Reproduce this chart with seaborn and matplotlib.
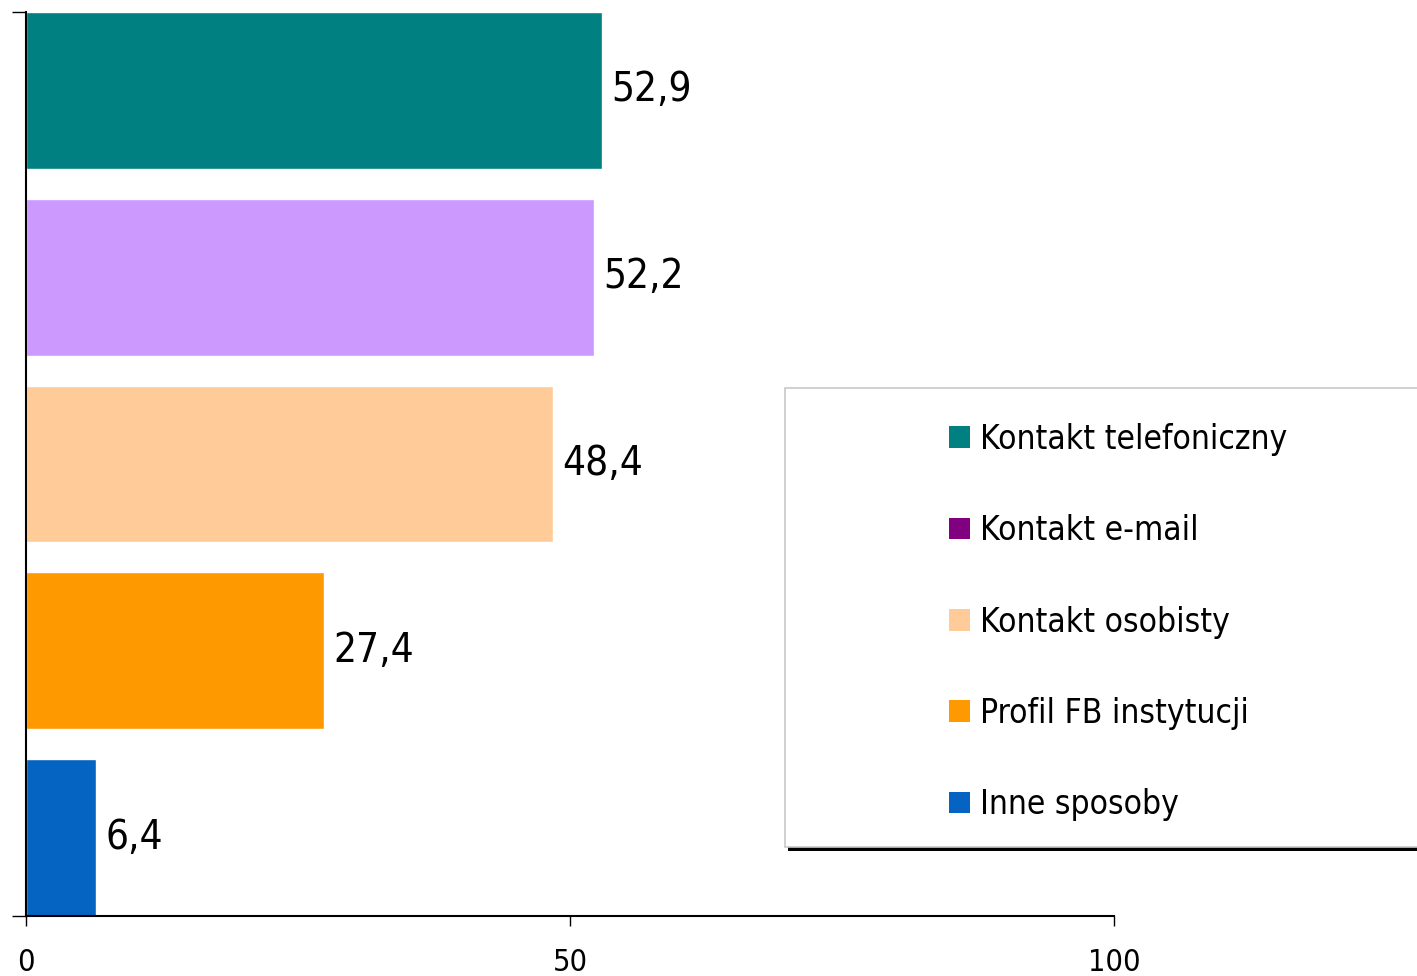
import matplotlib
matplotlib.use("Agg")
import matplotlib.pyplot as plt
import pandas as pd
import seaborn as sns
from matplotlib.patches import Patch, Rectangle

categories = [
    "Kontakt telefoniczny",
    "Kontakt e-mail",
    "Kontakt osobisty",
    "Profil FB instytucji",
    "Inne sposoby",
]
values = [52.9, 52.2, 48.4, 27.4, 6.4]
bar_colors = ["#008080", "#CC99FF", "#FFCC99", "#FF9900", "#0563C1"]
legend_colors = ["#008080", "#800080", "#FFCC99", "#FF9900", "#0563C1"]
x_ticks = [0, 50, 100]

sns.set_style("white")
plt.rcParams["font.family"] = ["DejaVu Sans"]
plt.rcParams["font.stretch"] = "condensed"
plt.rcParams["text.color"] = "black"
plt.rcParams["xtick.color"] = "black"
plt.rcParams["ytick.color"] = "black"

df = pd.DataFrame({"category": categories, "value": values})

fig = plt.figure(figsize=(14.17, 9.76), dpi=100)
ax = fig.add_axes([26 / 1417, 1 - 916 / 976, (1114 - 26) / 1417, (916 - 12) / 976])

sns.barplot(data=df, x="value", y="category", hue="category",
            palette=bar_colors, orient="h", width=0.84, legend=False,
            saturation=1, ax=ax)

for cont in ax.containers:
    ax.bar_label(cont, labels=[f"{v:.1f}".replace(".", ",") for v in cont.datavalues],
                 padding=7, fontsize=29, color="black")

ax.set_xlim(0, 100)
ax.set_ylim(4.42, -0.42)
ax.set_xticks(x_ticks)
ax.set_xticklabels([str(t) for t in x_ticks], fontsize=22)
ax.set_yticks([4.42, -0.42])
ax.set_yticklabels([])
ax.set_xlabel("")
ax.set_ylabel("")
ax.tick_params(axis="x", direction="out", length=7, width=1, pad=16, bottom=True)
ax.tick_params(axis="y", direction="out", length=10, width=1, left=True)
for side in ["top", "right"]:
    ax.spines[side].set_visible(False)
for side in ["left", "bottom"]:
    ax.spines[side].set_color("black")
    ax.spines[side].set_linewidth(1.5)

# legend frame with shadow, running off the right edge
x0, y0 = 785 / 1417, 1 - 847 / 976
h = (847 - 388) / 976
fig.patches.append(Rectangle((x0 + 3 / 1417, y0 - 4 / 976), 1, h, transform=fig.transFigure,
                             facecolor="black", edgecolor="none", zorder=1))
fig.patches.append(Rectangle((x0, y0), 1, h, transform=fig.transFigure,
                             facecolor="white", edgecolor="#c8c8c8", lw=1.2, zorder=2))

handles = [Patch(facecolor=c, edgecolor="none") for c in legend_colors]
leg = fig.legend(handles, categories, loc="upper left",
                 bbox_to_anchor=(949 / 1417, 1 - 423 / 976), frameon=False,
                 fontsize=24, handlelength=0.62, handleheight=0.62,
                 handletextpad=0.3, labelspacing=1.75, borderpad=0, borderaxespad=0)
leg.set_zorder(5)

fig.savefig("out.png", dpi=100)
